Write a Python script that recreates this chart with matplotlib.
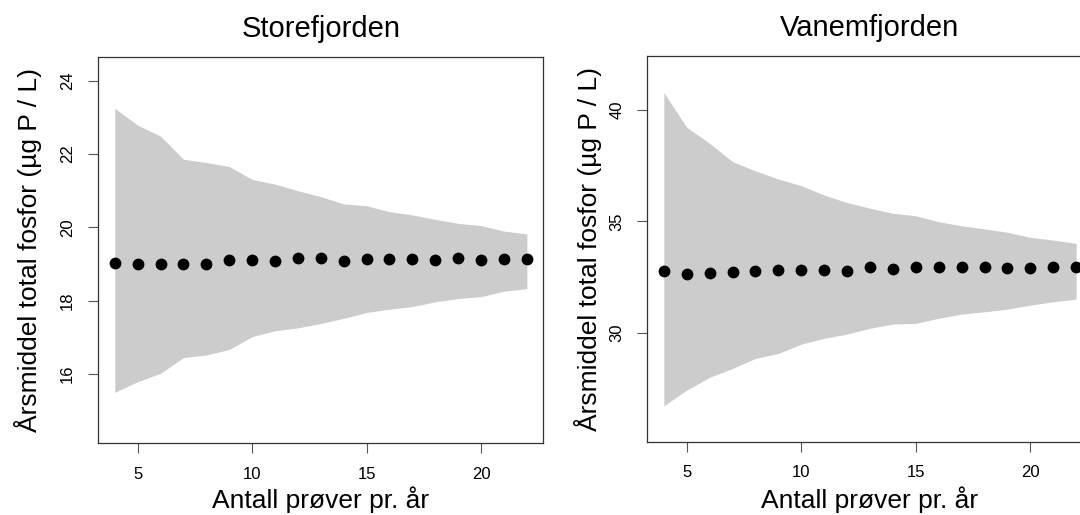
import matplotlib
matplotlib.use("Agg")
import matplotlib.pyplot as plt

plt.rcParams["font.family"] = ["Liberation Sans", "DejaVu Sans"]

# antall prøver pr. år
antall_prover = [4, 5, 6, 7, 8, 9, 10, 11, 12, 13, 14, 15, 16, 17, 18, 19, 20, 21, 22]

# Storefjorden: middel og intervall
store_middel = [19.02, 19.01, 19.01, 19.01, 19.01, 19.11, 19.11, 19.09, 19.17, 19.16,
                19.07, 19.14, 19.14, 19.13, 19.12, 19.16, 19.10, 19.15, 19.14]
store_ovre = [23.25, 22.79, 22.49, 21.86, 21.77, 21.66, 21.31, 21.18, 21.00, 20.84,
              20.64, 20.59, 20.43, 20.34, 20.22, 20.11, 20.05, 19.90, 19.82]
store_nedre = [15.50, 15.79, 16.02, 16.45, 16.52, 16.67, 17.02, 17.18, 17.26, 17.38,
               17.52, 17.68, 17.77, 17.84, 17.97, 18.06, 18.11, 18.26, 18.33]

# Vanemfjorden: middel og intervall
vanem_middel = [32.77, 32.62, 32.69, 32.74, 32.78, 32.80, 32.82, 32.83, 32.78, 32.94,
                32.88, 32.96, 32.95, 32.96, 32.96, 32.91, 32.91, 32.96, 32.96]
vanem_ovre = [40.78, 39.22, 38.50, 37.68, 37.26, 36.90, 36.60, 36.18, 35.84, 35.59,
              35.36, 35.25, 34.98, 34.80, 34.66, 34.51, 34.28, 34.16, 34.01]
vanem_nedre = [26.72, 27.43, 28.00, 28.40, 28.85, 29.07, 29.49, 29.75, 29.94, 30.20,
               30.39, 30.42, 30.65, 30.84, 30.94, 31.06, 31.24, 31.39, 31.51]

x_ticks = [5, 10, 15, 20]
store_yticks = [16, 18, 20, 22, 24]
vanem_yticks = [30, 35, 40]

XLABEL = "Antall prøver pr. år"
YLABEL = "Årsmiddel total fosfor (µg P / L)"


def panel(ax, tittel, middel, ovre, nedre, yticks, ylim, ylab_x, xlab_y):
    ax.fill_between(antall_prover, nedre, ovre, color="#CCCCCC", linewidth=0)
    ax.plot(antall_prover, middel, "o", color="black", markersize=8.5,
            markeredgewidth=0, clip_on=False)
    ax.set_xlim(3.28, 22.72)
    ax.set_ylim(*ylim)
    ax.set_xticks(x_ticks)
    ax.set_yticks(yticks)
    ax.tick_params(direction="out", length=7.2, width=0.8, color="#555555",
                   labelsize=12, pad=9.5)
    ax.tick_params(axis="y", labelrotation=90)
    for lab in ax.get_yticklabels():
        lab.set_verticalalignment("center")
    for s in ax.spines.values():
        s.set_color("#333333")
        s.set_linewidth(0.9)
    ax.set_title(tittel, fontsize=21, pad=14.5)
    ax.set_xlabel(XLABEL, fontsize=19, va="baseline")
    ax.xaxis.set_label_coords(0.5, xlab_y)
    ax.set_ylabel(YLABEL, fontsize=19, va="center")
    ax.yaxis.set_label_coords(ylab_x, 0.5)


fig = plt.figure(figsize=(10.8, 5.15), dpi=100)
ax1 = fig.add_axes([0.0910, 0.1392, 0.4121, 0.7495])
ax2 = fig.add_axes([0.5994, 0.1423, 0.4123, 0.7490])

panel(ax1, "Storefjorden", store_middel, store_ovre, store_nedre,
      store_yticks, (14.11, 24.64), -0.158, -0.168)
panel(ax2, "Vanemfjorden", vanem_middel, vanem_ovre, vanem_nedre,
      vanem_yticks, (25.11, 42.42), -0.133, -0.172)

fig.savefig("out.png", dpi=100, facecolor="white")
